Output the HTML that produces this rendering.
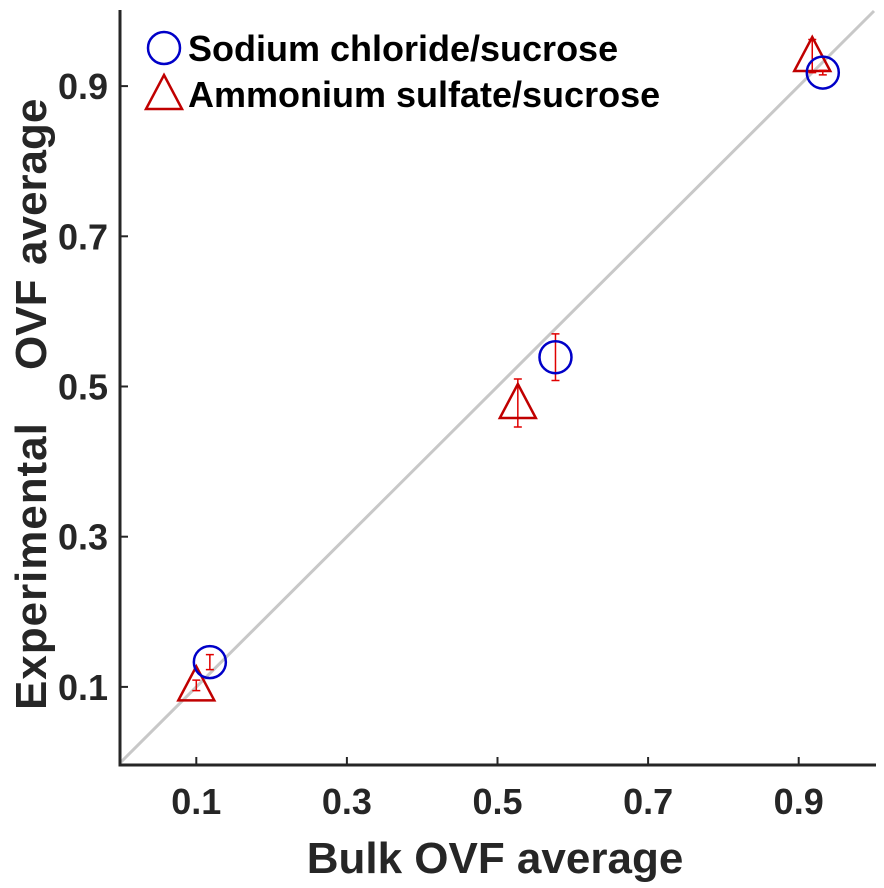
<!DOCTYPE html>
<html><head><meta charset="utf-8"><style>body{margin:0;background:#fff}svg{display:block;font-family:"Liberation Sans",sans-serif;font-weight:bold}</style></head>
<body>
<svg id="c" width="884" height="888"></svg>
<script>
const ticks=[0.1,0.3,0.5,0.7,0.9];
const naclX=[0.118,0.577,0.932];
const naclY=[0.133,0.539,0.918];
const naclErr=[0.010,0.031,0.003];
const amsX=[0.100,0.527,0.918];
const amsY=[0.102,0.478,0.940];
const amsErr=[0.007,0.032,0.022];
const NS="http://www.w3.org/2000/svg";
const svg=document.getElementById('c');
const X=v=>121+v*753, Y=v=>762-v*751;
function mk(t,a,txt){const e=document.createElementNS(NS,t);for(const k in a)e.setAttribute(k,a[k]);if(txt!=null)e.textContent=txt;svg.appendChild(e);return e;}
let e;
e=mk('line',{x1:X(0),y1:Y(0),x2:X(1),y2:Y(1),stroke:'#c8c8c8','stroke-width':3});

e=mk('path',{d:`M120 10V765H876`,fill:'none',stroke:'#262626','stroke-width':3});

ticks.forEach(t=>{
 mk('line',{x1:X(t),y1:765,x2:X(t),y2:757,stroke:'#262626','stroke-width':2});
 mk('line',{x1:120,y1:Y(t),x2:128,y2:Y(t),stroke:'#262626','stroke-width':2});
 e=mk('text',{x:X(t),y:814,'text-anchor':'middle','font-size':36,fill:'#262626'},t.toFixed(1));
 
 e=mk('text',{x:108,y:Y(t)+13,'text-anchor':'end','font-size':36,fill:'#262626'},t.toFixed(1));
 
});
e=mk('text',{x:495,y:873,'text-anchor':'middle','font-size':44,fill:'#262626'},'Bulk OVF average');

e=mk('text',{x:0,y:0,'font-size':44,fill:'#262626',transform:'translate(46,0) rotate(-90)'});

[['Experimental',-710,300],['OVF',-370,null],['average',-265,null]].forEach(([w,x,L])=>{
 const ts=document.createElementNS(NS,'tspan');ts.setAttribute('x',x);if(L){ts.setAttribute('textLength',L);ts.setAttribute('lengthAdjust','spacing');}
 ts.textContent=w+' ';e.appendChild(ts);});
function eb(x,y,err,col){const cx=X(x),t=Y(y+err),b=Y(y-err);
 mk('path',{d:`M${cx} ${t}V${b}M${cx-4} ${t}H${cx+4}M${cx-4} ${b}H${cx+4}`,stroke:col,'stroke-width':1.5,fill:'none'});}
function tri(cx,cy,col){return mk('path',{d:`M${cx} ${cy-19}L${cx+18} ${cy+15}L${cx-18} ${cy+15}Z`,fill:'none',stroke:col,'stroke-width':2.5});}
amsX.forEach((x,i)=>{eb(x,amsY[i],amsErr[i],'#e00000');
 e=tri(X(x),Y(amsY[i]),'#c00000');
 });
naclX.forEach((x,i)=>{eb(x,naclY[i],naclErr[i],'#e00000');
 e=mk('circle',{cx:X(x),cy:Y(naclY[i]),r:16,fill:'none',stroke:'#0000c8','stroke-width':2.5});
 });
e=mk('circle',{cx:164,cy:48,r:16,fill:'none',stroke:'#0000c8','stroke-width':2.5});

e=tri(164,94,'#c00000');

e=mk('text',{x:188,y:61,'font-size':36,fill:'#000'},'Sodium chloride/sucrose');

e=mk('text',{x:188,y:107,'font-size':36,fill:'#000'},'Ammonium sulfate/sucrose');

</script>
</body></html>
